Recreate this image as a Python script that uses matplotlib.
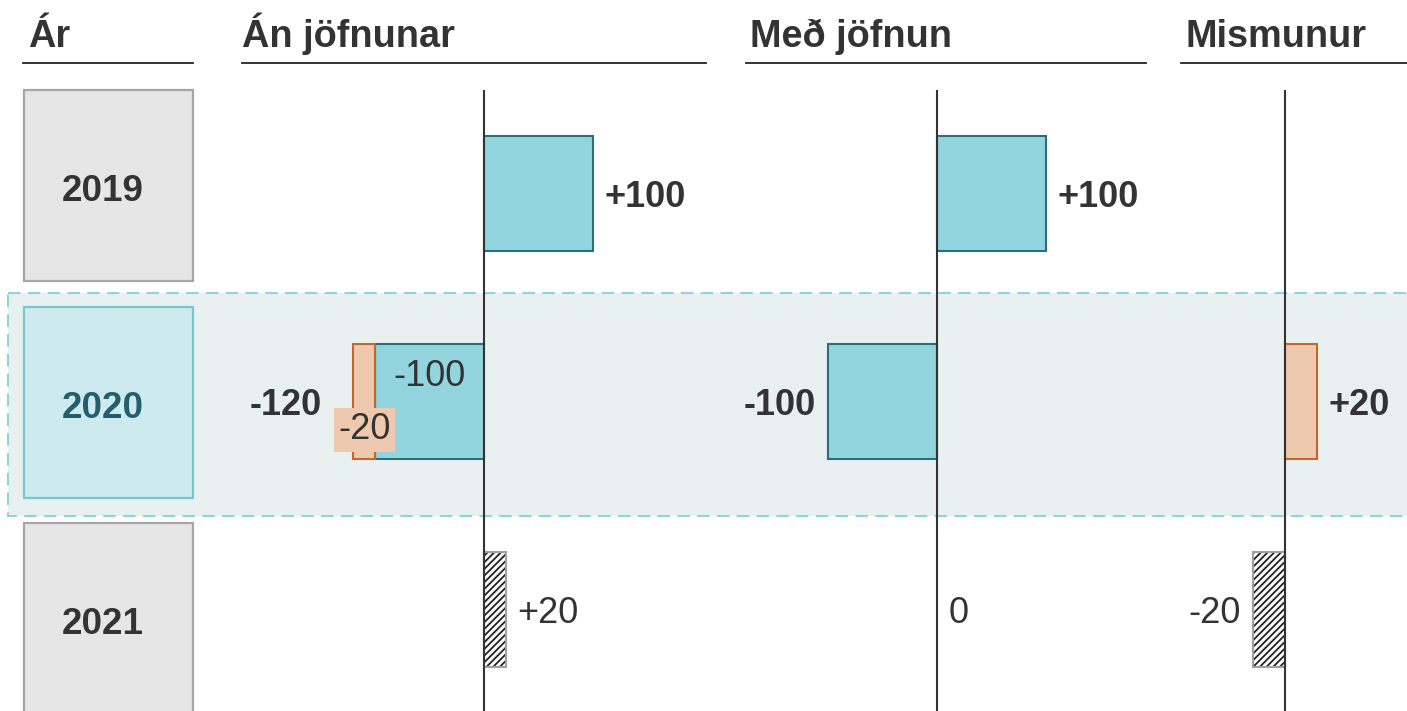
import matplotlib
matplotlib.use('Agg')
import matplotlib.pyplot as plt
from matplotlib.patches import Rectangle

plt.rcParams['font.family'] = ['Liberation Sans', 'DejaVu Sans']
plt.rcParams['hatch.linewidth'] = 1.3

# data
years = ['2019', '2020', '2021']
headers = ['Ár', 'Án jöfnunar', 'Með jöfnun', 'Mismunur']
an_base = [100, -100, 0]     # án jöfnunar, grunnur
an_adj = [0, -20, 20]        # án jöfnunar, leiðrétting
med = [100, -100, 0]         # með jöfnun
mis = [None, 20, -20]        # mismunur
bold_rows = [True, True, False]
highlight = '2020'

W, H = 1407, 711
TXT = '#333333'
TEAL, TEAL_E = '#92d5df', '#2b6f7f'
ORANGE, ORANGE_E = '#eec9ae', '#c4662e'
FS = 26

fig = plt.figure(figsize=(W / 100, H / 100), dpi=100)


def px_axes(l, r, z=1):
    ax = fig.add_axes([l / W, 0, (r - l) / W, 1], zorder=z)
    ax.set_axis_off()
    ax.patch.set_alpha(0)
    return ax


# background: highlight band, headers
bg = px_axes(0, W, 0)
bg.set_xlim(0, W)
bg.set_ylim(H, 0)
bg.add_patch(Rectangle((8, 293), W, 223, fc='#e9f1f0', ec='#8fd3dc',
                       lw=1.5, ls=(0, (6, 3.5))))
head_pos = [(28, 23, 193), (242, 242, 706), (750, 746, 1146), (1186, 1181, 1407)]
for h, (tx, l, r) in zip(headers, head_pos):
    bg.text(tx, 47, h, fontsize=27.3, fontweight='bold', color=TXT, va='baseline')
    bg.plot([l, r], [63, 63], color='#222222', lw=1.3)

# year boxes
ya = px_axes(24, 193, 1)
ya.set_xlim(0, 1)
ya.set_ylim((H - 185.5) / 216.5, -185.5 / 216.5)
for i, y in enumerate(years):
    hl = y == highlight
    ya.barh(i, 1, height=191 / 216.5, color='#cdebee' if hl else '#e6e6e6',
            edgecolor='#7ac6cd' if hl else '#a6a6a6', lw=1.6, clip_on=False)
    ya.text(0.465, i + 0.01, y, ha='center', va='center_baseline', fontsize=26.5,
            fontweight='bold', color='#245e6c' if hl else TXT)

BAR_H = 115 / 208


def panel(l, r, z, s):
    ax = px_axes(l, r, 2)
    ax.set_xlim((l - z) / s, (r - z) / s)
    ax.set_ylim((H - 193.5) / 208, -193.5 / 208)
    ax.axvline(0, ymin=0, ymax=1 - 91 / H, color=TXT, lw=1.5, zorder=5)
    return ax


def end_label(ax, y, v, bold, gap=8.6):
    txt = f'{v:+d}' if v else '0'
    sgn = 1 if v >= 0 else -1
    ax.annotate(txt, (v, y), xytext=(sgn * gap, 0), textcoords='offset points',
                ha='left' if sgn > 0 else 'right', va='center_baseline', fontsize=FS,
                fontweight='bold' if bold else 'normal', color=TXT)


def adj_bar(ax, i, v, left=0):
    if years[i] == highlight:
        ax.barh(i, v, left=left, height=BAR_H, color=ORANGE, edgecolor=ORANGE_E, lw=1.5)
    else:
        ax.barh(i, v, left=left, height=BAR_H, color='white', edgecolor='#222222',
                lw=0, hatch='/////')
        ax.barh(i, v, left=left, height=BAR_H, fill=False, edgecolor='#a0a0a0', lw=1.5)


# Án jöfnunar
ax1 = panel(242, 706, 484, 1.09)
for i in range(len(years)):
    b, a = an_base[i], an_adj[i]
    if b:
        ax1.barh(i, b, height=BAR_H, color=TEAL, edgecolor=TEAL_E, lw=1.5)
    if a:
        adj_bar(ax1, i, a, left=b)
    if b and a:
        ax1.text(b / 2, i - 0.14, f'{b:+d}', ha='center', va='center_baseline',
                 fontsize=FS, color=TXT)
        ax1.text(b + a / 2, i + 0.137, f'{a:+d}', ha='center', va='center',
                 fontsize=FS, color=TXT, zorder=6,
                 bbox=dict(boxstyle='square,pad=0.12', fc=ORANGE, ec='none'))
        end_label(ax1, i, b + a, bold_rows[i], gap=22.3)
    else:
        end_label(ax1, i, b + a, bold_rows[i])

# Með jöfnun
ax2 = panel(746, 1146, 937, 1.09)
for i, v in enumerate(med):
    if v:
        ax2.barh(i, v, height=BAR_H, color=TEAL, edgecolor=TEAL_E, lw=1.5)
    end_label(ax2, i, v, bold_rows[i])

# Mismunur
ax3 = panel(1181, 1407, 1285, 1.6)
for i, v in enumerate(mis):
    if v is None:
        continue
    adj_bar(ax3, i, v)
    end_label(ax3, i, v, bold_rows[i])

fig.savefig('out.png', dpi=100)
